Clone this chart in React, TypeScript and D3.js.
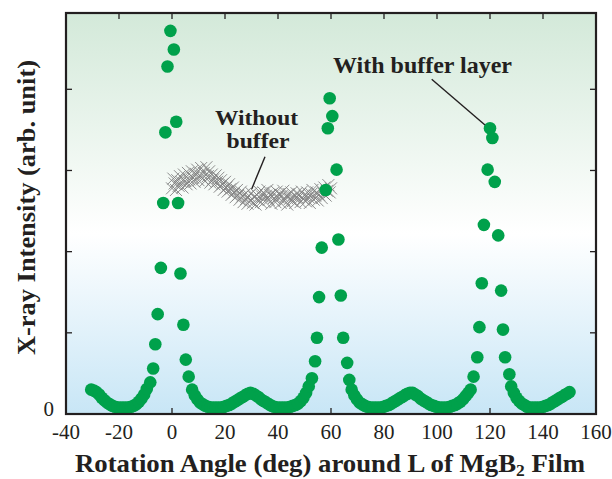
import React from 'react';
import { scaleLinear } from 'd3';

// rotation angle (deg) vs x-ray intensity (arb. unit)
const angleTicks = [-40, -20, 0, 20, 40, 60, 80, 100, 120, 140, 160];
const intensityTicks = [0, 1, 2, 3, 4];
const intensityLabels = ['0'];

const withBuffer: [number, number][] = [
  [-30.5, 0.30], [-29.5, 0.29], [-28.5, 0.27], [-27.5, 0.24], [-26.5, 0.20], [-25.5, 0.17],
  [-24.5, 0.14], [-23.5, 0.12], [-22.5, 0.10], [-21.5, 0.09], [-20.5, 0.08], [-19.5, 0.08],
  [-18.5, 0.08], [-17.5, 0.08], [-16.5, 0.08], [-15.5, 0.09], [-14.5, 0.10], [-13.5, 0.12],
  [-12.5, 0.15], [-11.5, 0.19], [-10.5, 0.24], [-9.5, 0.31],
  [-8.2, 0.39], [-7.1, 0.56], [-6.3, 0.86], [-5.4, 1.23], [-4.2, 1.80], [-3.3, 2.60],
  [-2.5, 3.47], [-1.7, 4.28], [-0.6, 4.72], [0.7, 4.49], [1.6, 3.60], [2.3, 2.60],
  [3.2, 1.73], [4.3, 1.10], [5.2, 0.67], [6.3, 0.46], [7.6, 0.30],
  [8.6, 0.23], [9.6, 0.18], [10.6, 0.14], [11.6, 0.12], [12.6, 0.10], [13.6, 0.09],
  [14.6, 0.08], [15.6, 0.08], [16.6, 0.08], [17.6, 0.08], [18.6, 0.08], [19.6, 0.09],
  [20.6, 0.10], [21.6, 0.11], [22.6, 0.13], [23.6, 0.15], [24.6, 0.17], [25.6, 0.19],
  [26.6, 0.21], [27.6, 0.23], [28.6, 0.25], [29.6, 0.26], [30.6, 0.25], [31.6, 0.23],
  [32.6, 0.21], [33.6, 0.18], [34.6, 0.16], [35.6, 0.14], [36.6, 0.12], [37.6, 0.10],
  [38.6, 0.09], [39.6, 0.08], [40.6, 0.08], [41.6, 0.08], [42.6, 0.08], [43.6, 0.08],
  [44.6, 0.09], [45.6, 0.10], [46.6, 0.11], [47.6, 0.13], [48.6, 0.16], [49.6, 0.20],
  [50.6, 0.26], [51.6, 0.34],
  [52.8, 0.44], [54.0, 0.65], [54.7, 0.94], [55.5, 1.44], [56.5, 2.05], [58.0, 2.76],
  [58.8, 3.52], [59.5, 3.89], [60.5, 3.67], [62.1, 3.01], [62.8, 2.15], [63.7, 1.46],
  [64.6, 0.94], [66.1, 0.63], [66.9, 0.42], [67.8, 0.30],
  [68.8, 0.23], [69.8, 0.18], [70.8, 0.14], [71.8, 0.12], [72.8, 0.10], [73.8, 0.09],
  [74.8, 0.08], [75.8, 0.08], [76.8, 0.08], [77.8, 0.08], [78.8, 0.08], [79.8, 0.09],
  [80.8, 0.10], [81.8, 0.11], [82.8, 0.13], [83.8, 0.15], [84.8, 0.17], [85.8, 0.19],
  [86.8, 0.21], [87.8, 0.23], [88.8, 0.25], [89.8, 0.26], [90.8, 0.26], [91.8, 0.24],
  [92.8, 0.22], [93.8, 0.19], [94.8, 0.17], [95.8, 0.15], [96.8, 0.13], [97.8, 0.11],
  [98.8, 0.10], [99.8, 0.09], [100.8, 0.08], [101.8, 0.08], [102.8, 0.08], [103.8, 0.08],
  [104.8, 0.09], [105.8, 0.10], [106.8, 0.11], [107.8, 0.13], [108.8, 0.15], [109.8, 0.18],
  [110.8, 0.22], [111.8, 0.26],
  [112.7, 0.30], [113.8, 0.46], [115.2, 0.70], [116.0, 1.07], [116.9, 1.61], [117.7, 2.33],
  [119.1, 3.01], [120.0, 3.52], [120.9, 3.40], [121.8, 2.86], [123.1, 2.20], [124.2, 1.52],
  [124.9, 1.04], [125.7, 0.70], [127.3, 0.49], [128.0, 0.34],
  [129.0, 0.26], [130.0, 0.20], [131.0, 0.16], [132.0, 0.13], [133.0, 0.11], [134.0, 0.09],
  [135.0, 0.08], [136.0, 0.08], [137.0, 0.08], [138.0, 0.08], [139.0, 0.08], [140.0, 0.09],
  [141.0, 0.10], [142.0, 0.11], [143.0, 0.13], [144.0, 0.15], [145.0, 0.17], [146.0, 0.19],
  [147.0, 0.21], [148.0, 0.23], [149.0, 0.25], [150.0, 0.27],
];

const withoutBuffer: [number, number][] = [
  [0, 2.78], [0.5, 2.90], [1, 2.84], [1.5, 2.76], [2, 2.88], [2.5, 2.81], [3, 2.93], [3.5, 2.86],
  [4, 2.79], [4.5, 2.95], [5, 2.87], [5.5, 2.83], [6, 2.97], [6.5, 2.89], [7, 2.84], [7.5, 2.99],
  [8, 2.91], [8.5, 2.86], [9, 2.96], [9.5, 3.01], [10, 2.88], [10.5, 2.94], [11, 3.03], [11.5, 2.90],
  [12, 2.97], [12.5, 2.87], [13, 3.04], [13.5, 2.93], [14, 2.99], [14.5, 2.85], [15, 2.95], [15.5, 2.89],
  [16, 2.83], [16.5, 2.94], [17, 2.86], [17.5, 2.91], [18, 2.80], [18.5, 2.88], [19, 2.83], [19.5, 2.76],
  [20, 2.86], [20.5, 2.79], [21, 2.74], [21.5, 2.83], [22, 2.77], [22.5, 2.70], [23, 2.79], [23.5, 2.73],
  [24, 2.67], [24.5, 2.76], [25, 2.70], [25.5, 2.64], [26, 2.74], [26.5, 2.68], [27, 2.61], [27.5, 2.71],
  [28, 2.65], [28.5, 2.59], [29, 2.69], [29.5, 2.63], [30, 2.72], [30.5, 2.60], [31, 2.67], [31.5, 2.58],
  [32, 2.70], [32.5, 2.64], [33, 2.74], [33.5, 2.61], [34, 2.68], [34.5, 2.73], [35, 2.62], [35.5, 2.69],
  [36, 2.76], [36.5, 2.64], [37, 2.70], [37.5, 2.59], [38, 2.72], [38.5, 2.66], [39, 2.61], [39.5, 2.74],
  [40, 2.67], [40.5, 2.71], [41, 2.60], [41.5, 2.69], [42, 2.75], [42.5, 2.63], [43, 2.68], [43.5, 2.58],
  [44, 2.71], [44.5, 2.65], [45, 2.73], [45.5, 2.62], [46, 2.67], [46.5, 2.60], [47, 2.72], [47.5, 2.66],
  [48, 2.70], [48.5, 2.61], [49, 2.74], [49.5, 2.65], [50, 2.69], [50.5, 2.62], [51, 2.73], [51.5, 2.67],
  [52, 2.60], [52.5, 2.71], [53, 2.76], [53.5, 2.64], [54, 2.69], [54.5, 2.73], [55, 2.63], [55.5, 2.70],
  [56, 2.77], [56.5, 2.66], [57, 2.72], [57.5, 2.79], [58, 2.69], [58.5, 2.75], [59, 2.82], [59.5, 2.73],
  [60, 2.78],
];

const W = 612;
const H = 479;
const m = { left: 66, right: 16, top: 13, bottom: 65 };
const serif = '"Liberation Serif", "Times New Roman", serif';

const App = () => {
  const x = scaleLinear().domain([-40, 160]).range([m.left, W - m.right]);
  const y = scaleLinear().domain([0, 4.94]).range([H - m.bottom, m.top]);
  const [x0, x1] = x.range();
  const [y0, y1] = y.range();
  const tick = 6;
  const cs = 6;

  return (
    <svg width={W} height={H} style={{ position: 'absolute', left: 0, top: 0 }} fontFamily={serif}>
      <defs>
        <linearGradient id="bg" x1="0" y1="0" x2="0" y2="1">
          <stop offset="0%" stopColor="#d3e9d9" />
          <stop offset="55%" stopColor="#ffffff" />
          <stop offset="100%" stopColor="#c8e6f6" />
        </linearGradient>
      </defs>
      <rect x={x0} y={y1} width={x1 - x0} height={y0 - y1} fill="url(#bg)" />

      {/* ticks, inward on all four sides */}
      <g stroke="#231f20" strokeWidth={1.3}>
        {angleTicks.map(t => (
          <g key={'x' + t}>
            <line x1={x(t)} x2={x(t)} y1={y0} y2={y0 - tick} />
            <line x1={x(t)} x2={x(t)} y1={y1} y2={y1 + tick} />
          </g>
        ))}
        {intensityTicks.map(t => (
          <g key={'y' + t}>
            <line x1={x0} x2={x0 + tick} y1={y(t)} y2={y(t)} />
            <line x1={x1} x2={x1 - tick} y1={y(t)} y2={y(t)} />
          </g>
        ))}
      </g>

      {/* without buffer: crosses */}
      <g stroke="#808080" strokeWidth={0.9}>
        {withoutBuffer.map(([a, v], i) => (
          <path key={i} d={`M${x(a) - cs},${y(v) - cs}L${x(a) + cs},${y(v) + cs}M${x(a) - cs},${y(v) + cs}L${x(a) + cs},${y(v) - cs}`} />
        ))}
      </g>

      {/* with buffer: filled circles */}
      <g fill="#00a14b">
        {withBuffer.map(([a, v], i) => (
          <circle key={i} cx={x(a)} cy={y(v)} r={6.3} />
        ))}
      </g>

      <rect x={x0} y={y1} width={x1 - x0} height={y0 - y1} fill="none" stroke="#231f20" strokeWidth={2.2} />

      {/* tick labels */}
      <g fontSize={21} fill="#231f20" textAnchor="middle">
        {angleTicks.map(t => (
          <text key={t} x={x(t)} y={y0 + 25}>{String(t)}</text>
        ))}
      </g>
      <g fontSize={21} fill="#231f20" textAnchor="end">
        {intensityLabels.map(l => (
          <text key={l} x={x0 - 12} y={y(+l) + 2}>{l}</text>
        ))}
      </g>

      {/* axis titles */}
      <text x={330} y={472} fontSize={26} fontWeight="bold" fill="#231f20" textAnchor="middle"
        textLength={510} lengthAdjust="spacingAndGlyphs">
        Rotation Angle (deg) around L of MgB<tspan fontSize={17} dy={4}>2</tspan><tspan dy={-4}> Film</tspan>
      </text>
      <text transform="translate(35,207.5) rotate(-90)" fontSize={26} fontWeight="bold" fill="#231f20"
        textAnchor="middle" textLength={295} lengthAdjust="spacingAndGlyphs">
        X-ray Intensity (arb. unit)
      </text>

      {/* annotations */}
      <g fontWeight="bold" fill="#231f20" textAnchor="middle">
        <text x={422.5} y={73} fontSize={23} textLength={179} lengthAdjust="spacingAndGlyphs">With buffer layer</text>
        <text x={256.5} y={125} fontSize={20} textLength={83} lengthAdjust="spacingAndGlyphs">Without</text>
        <text x={258} y={148} fontSize={20} textLength={63} lengthAdjust="spacingAndGlyphs">buffer</text>
      </g>
      <g stroke="#231f20" strokeWidth={1.4}>
        <line x1={431.7} y1={79.3} x2={485} y2={125} />
        <line x1={265} y1={156.7} x2={251.7} y2={189} />
      </g>
    </svg>
  );
};

export default App;
